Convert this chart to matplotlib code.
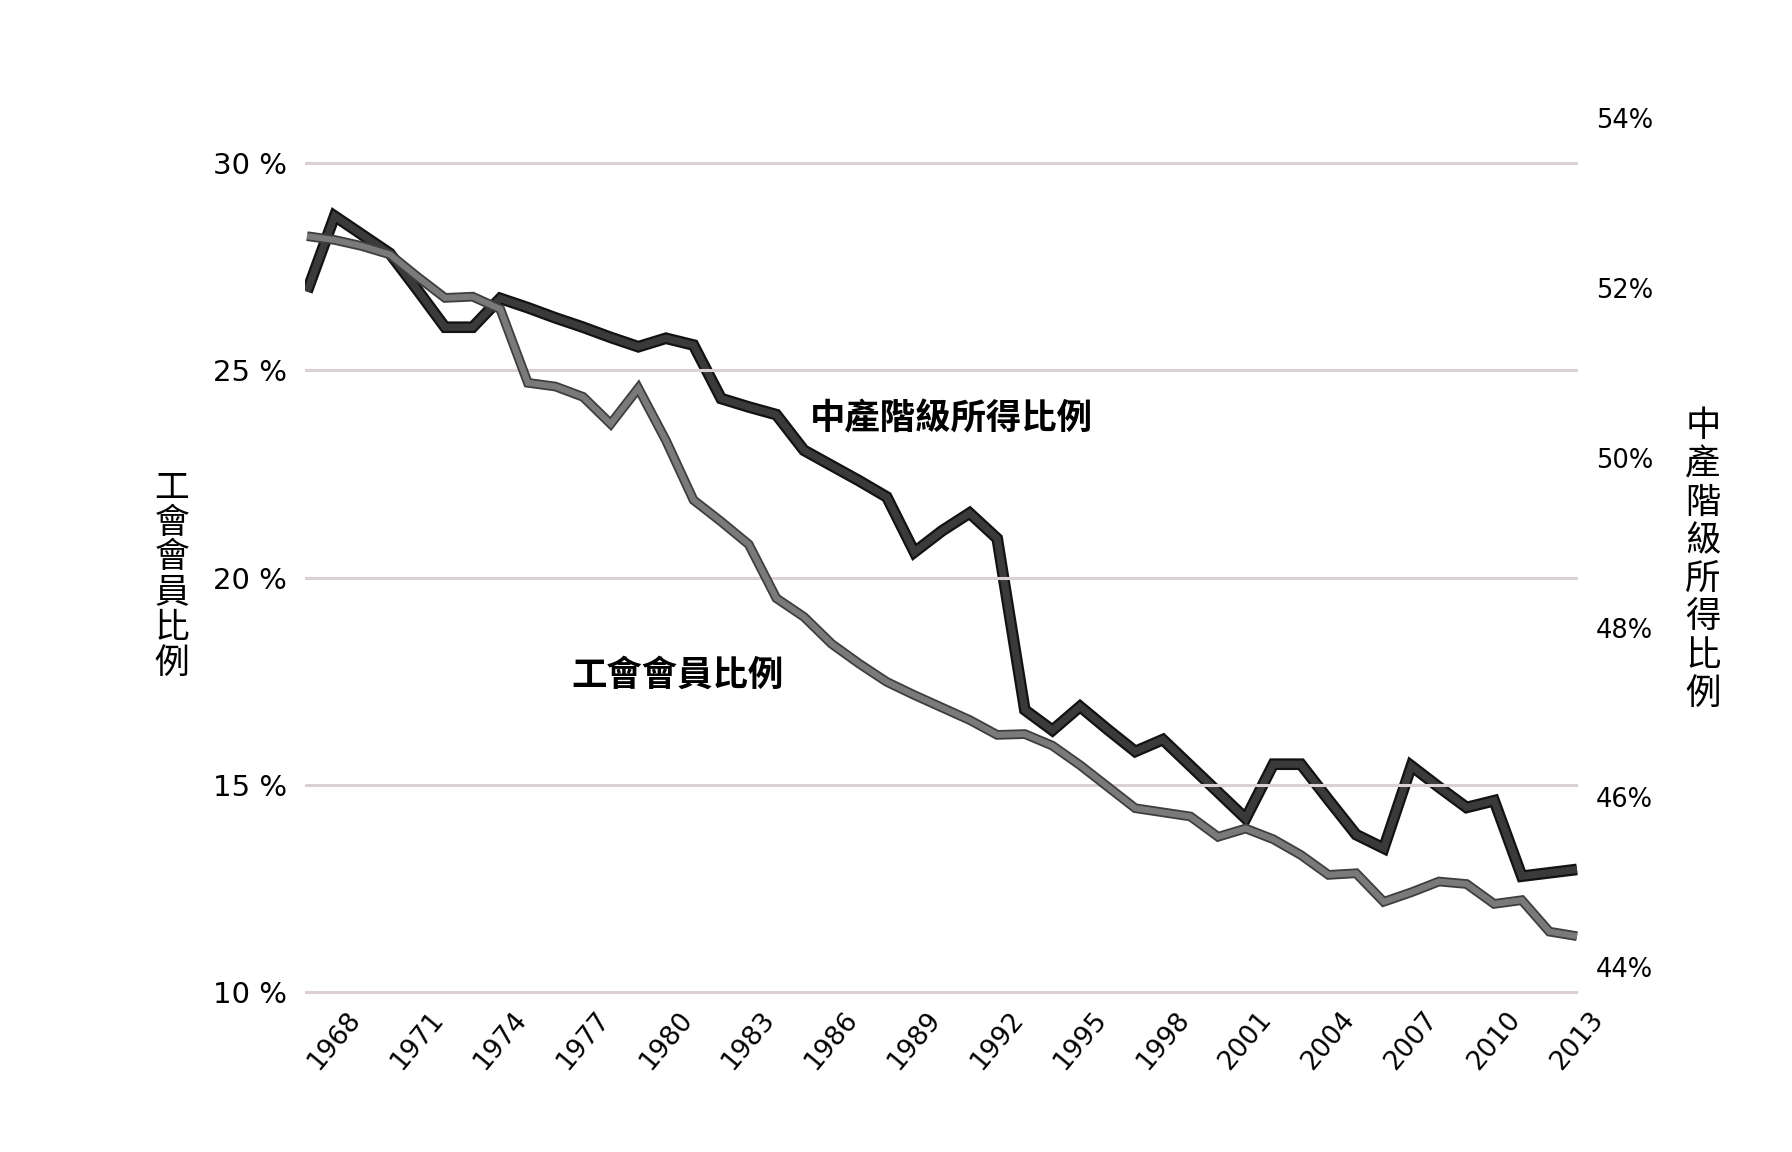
import matplotlib
matplotlib.use('Agg')
import matplotlib.pyplot as plt
import matplotlib.patheffects as pe
from matplotlib import font_manager

# ---------------- data ----------------
years = list(range(1967, 2014))
union_pct = [28.24, 28.15, 28.00, 27.80, 27.26, 26.75, 26.78, 26.48, 24.70, 24.61,
             24.36, 23.71, 24.57, 23.31, 21.87, 21.35, 20.80, 19.50, 19.05, 18.40,
             17.92, 17.48, 17.16, 16.86, 16.56, 16.20, 16.22, 15.94, 15.47, 14.95,
             14.43, 14.33, 14.23, 13.74, 13.94, 13.68, 13.30, 12.82, 12.86, 12.17,
             12.40, 12.66, 12.60, 12.12, 12.21, 11.45, 11.34]
middle_pct = [51.96, 52.85, 52.63, 52.41, 51.98, 51.54, 51.54, 51.88, 51.77, 51.65,
              51.54, 51.42, 51.31, 51.41, 51.33, 50.70, 50.60, 50.51, 50.09, 49.91,
              49.73, 49.54, 48.89, 49.14, 49.35, 49.05, 47.03, 46.79, 47.07, 46.80,
              46.54, 46.68, 46.37, 46.06, 45.75, 46.39, 46.39, 45.97, 45.56, 45.40,
              46.37, 46.12, 45.88, 45.96, 45.07, 45.11, 45.15]
xtick_years = list(range(1968, 2014, 3))
left_ticks = [10, 15, 20, 25, 30]
left_ticklabels = ['10 %', '15 %', '20 %', '25 %', '30 %']
right_ticks = [44, 46, 48, 50, 52, 54]
right_ticklabels = ['44%', '46%', '48%', '50%', '52%', '54%']
union_label = '工會會員比例'
middle_label = '中產階級所得比例'

# ---------------- fonts ----------------
names = {f.name for f in font_manager.fontManager.ttflist}
narrow = 'Liberation Sans Narrow' if 'Liberation Sans Narrow' in names else 'DejaVu Sans'
cjk = ['Noto Sans CJK TC', 'DejaVu Sans']

W, H = 1792, 1152
fig = plt.figure(figsize=(W / 100, H / 100), dpi=100)
fig.patch.set_facecolor('white')

ax = fig.add_axes([305 / W, (H - 1000) / H, (1578 - 305) / W, 900 / H])
ax.set_xlim(1966.928, 2013.036)
ax.set_ylim(9.80, 31.528)
ax2 = ax.twinx()
ax2.set_ylim(43.611, 54.218)

for a in (ax, ax2):
    for s in a.spines.values():
        s.set_visible(False)
    a.set_facecolor('none')

# gridlines
for v in left_ticks:
    ax.axhline(v, color='#ddd0d0', lw=2.2, zorder=0)

# lines
ax2.set_zorder(ax.get_zorder() - 1)
ax.patch.set_visible(False)
ax2.plot(years, middle_pct, color='#3a3a3a', lw=5.2, solid_joinstyle='miter',
         solid_capstyle='butt', zorder=2,
         path_effects=[pe.Stroke(linewidth=8.4, foreground='#121212',
                                 joinstyle='miter', capstyle='butt'), pe.Normal()])
ax.plot(years, union_pct, color='#7a7a7a', lw=4.4, solid_joinstyle='miter',
        solid_capstyle='butt', zorder=3,
        path_effects=[pe.Stroke(linewidth=7.0, foreground='#3e3e3e',
                                joinstyle='miter', capstyle='butt'), pe.Normal()])

# ticks
ax.set_xticks(xtick_years)
ax.set_xticklabels([str(y) for y in xtick_years], rotation=50, ha='center', va='top',
                   fontsize=19, family=narrow)
ax.set_yticks(left_ticks)
ax.set_yticklabels(left_ticklabels, fontsize=21, family='DejaVu Sans')
ax2.set_yticks(right_ticks)
ax2.set_yticklabels(right_ticklabels, fontsize=18.5, family='DejaVu Sans')
ax.tick_params(axis='x', length=0, pad=5)
ax.tick_params(axis='y', length=0, pad=13)
ax2.tick_params(axis='y', length=0, pad=13)

# stacked axis titles
for i, ch in enumerate(union_label):
    fig.text(172 / W, 1 - (488 + i * 35) / H, ch, ha='center', va='center',
             fontsize=25, family=cjk)
for i, ch in enumerate(middle_label):
    fig.text(1703 / W, 1 - (426 + i * 38.3) / H, ch, ha='center', va='center',
             fontsize=25.5, family=cjk)

# in-plot labels
fig.text(810 / W, 1 - 419 / H, middle_label, ha='left', va='center',
         fontsize=25.5, family=cjk, weight='bold')
fig.text(571 / W, 1 - 675 / H, union_label, ha='left', va='center',
         fontsize=25.5, family=cjk, weight='bold')

fig.savefig('out.png', dpi=100, facecolor='white')
